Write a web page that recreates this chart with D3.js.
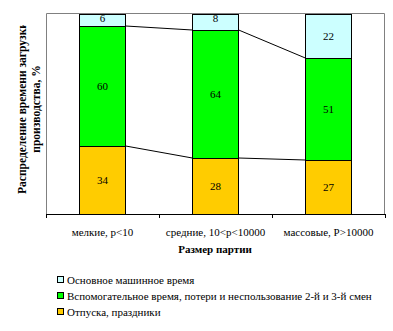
<!DOCTYPE html>
<html><head><meta charset="utf-8">
<script src="https://cdn.jsdelivr.net/npm/d3@7"></script>
<style>body{margin:0;background:#fff;}</style>
</head><body>
<svg id="c" width="393" height="331" style="display:block" font-family="Liberation Serif"></svg>
<script>
const categories = ["мелкие, p<10", "средние, 10<p<10000", "массовые, P>10000"];
const seriesNames = ["Отпуска, праздники", "Вспомогательное время, потери и неспользование 2-й и 3-й смен", "Основное машинное время"];
const holidays = [34, 28, 27];
const auxiliary = [60, 64, 51];
const machine = [6, 8, 22];
const colors = ["#FFCC00", "#00FF00", "#CCFFFF"];
const yTitle1 = "Распределение времени загрузки";
const yTitle2 = "производства, %";
const xTitle = "Размер партии";
const FONT = "Liberation Serif";
const FS = 11;

const svg = d3.select("#c");
const L = 46, R = 385, T = 13, B = 214;
const x = d3.scaleBand().domain(categories).range([L, R]).paddingInner(0.59).paddingOuter(0.295);
const y = d3.scaleLinear().domain([0, 100]).range([B, T + 1]);

const rows = categories.map((c, i) => ({cat: c, s0: holidays[i], s1: auxiliary[i], s2: machine[i]}));
const stack = d3.stack().keys(["s0", "s1", "s2"])(rows);

// plot border
svg.append("path").attr("d", `M${L+0.5},${B}V${T+0.5}H${R-0.5}V${B}`).attr("fill", "none").attr("stroke", "#808080");

// series lines
stack.slice(0, 2).forEach(s => {
  for (let i = 0; i < categories.length - 1; i++) {
    svg.append("line")
      .attr("x1", x(categories[i]) + x.bandwidth()).attr("y1", y(s[i][1]))
      .attr("x2", x(categories[i + 1])).attr("y2", y(s[i + 1][1]))
      .attr("stroke", "#000").attr("stroke-width", 1);
  }
});

// bars
stack.forEach((s, k) => {
  svg.append("g").selectAll("rect").data(s).join("rect")
    .attr("x", (d, i) => Math.round(x(categories[i])) + 0.5)
    .attr("y", d => Math.round(y(d[1])) + 0.5)
    .attr("width", Math.round(x.bandwidth()))
    .attr("height", d => Math.round(y(d[0])) - Math.round(y(d[1])))
    .attr("fill", colors[k]).attr("stroke", "#000").attr("stroke-width", 1);
  svg.append("g").selectAll("text").data(s).join("text")
    .attr("x", (d, i) => x(categories[i]) + x.bandwidth() / 2)
    .attr("y", d => {
      const h = y(d[0]) - y(d[1]);
      const cy = h < 20 ? y(d[1]) + 4 : (y(d[0]) + y(d[1])) / 2;
      return cy + 4;
    })
    .attr("text-anchor", "middle").attr("font-size", FS).attr("font-family", FONT).attr("fill", "#000")
    .text(d => d[1] - d[0]);
});

// x axis
const xa = svg.append("g").attr("transform", `translate(0,${B})`);
xa.append("line").attr("x1", L).attr("x2", R).attr("y1", 0.5).attr("y2", 0.5).attr("stroke", "#000");
const tickPos = [L, ...categories.map(c => x(c) + x.bandwidth() / 2 + x.step() / 2)];
xa.selectAll("line.t").data(tickPos).join("line").attr("class", "t")
  .attr("x1", d => Math.round(d) + 0.5).attr("x2", d => Math.round(d) + 0.5)
  .attr("y1", 0).attr("y2", 4).attr("stroke", "#000");
xa.selectAll("text").data(categories).join("text")
  .attr("x", d => x(d) + x.bandwidth() / 2).attr("y", 21.5)
  .attr("text-anchor", "middle").attr("font-size", FS).attr("font-family", FONT).text(d => d);

svg.append("text").attr("x", 215).attr("y", 253).attr("text-anchor", "middle").attr("font-family", FONT)
  .attr("font-size", FS).attr("font-weight", "bold").text(xTitle);

// y title (clipped at top, as in the reference)
svg.append("clipPath").attr("id", "yc").append("rect").attr("x", 0).attr("y", 25).attr("width", 46).attr("height", 200);
const yt = svg.append("g").attr("clip-path", "url(#yc)");
yt.append("text").attr("transform", "translate(26,108) rotate(-90)").attr("text-anchor", "middle").attr("font-family", FONT)
  .attr("font-size", 11.5).attr("font-weight", "bold").text(yTitle1);
yt.append("text").attr("transform", "translate(40,109) rotate(-90)").attr("text-anchor", "middle").attr("font-family", FONT)
  .attr("font-size", 11.5).attr("font-weight", "bold").text(yTitle2);

// legend
svg.append("clipPath").attr("id", "lc").append("rect").attr("x", 0).attr("y", 260).attr("width", 379).attr("height", 71);
const lg = svg.append("g").attr("clip-path", "url(#lc)");
const legOrder = [2, 1, 0];
legOrder.forEach((k, j) => {
  const cy = 280 + j * 16;
  lg.append("rect").attr("x", 57.5).attr("y", cy - 3.5).attr("width", 6).attr("height", 6)
    .attr("fill", colors[k]).attr("stroke", "#000");
  lg.append("text").attr("x", 67).attr("y", cy + 4).attr("font-size", FS).attr("font-family", FONT).text(seriesNames[k]);
});
</script>
</body></html>
